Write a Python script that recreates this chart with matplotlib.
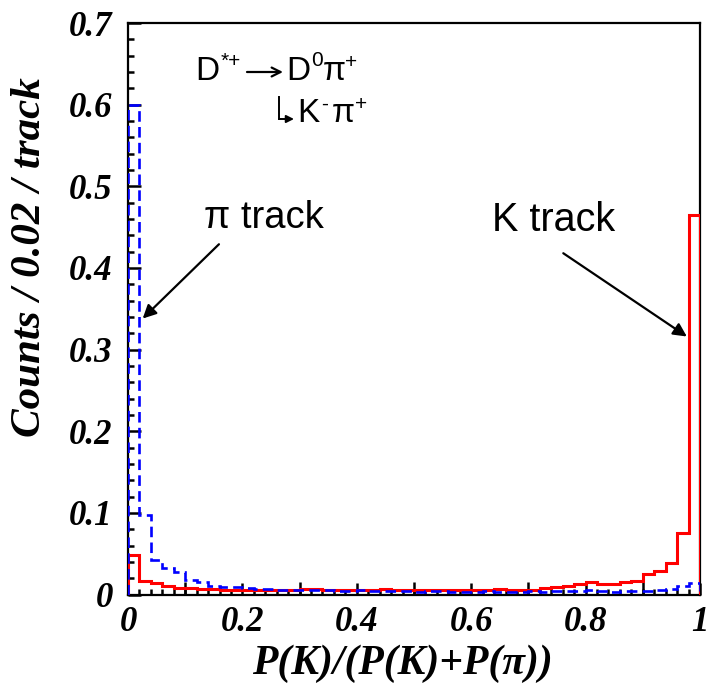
import matplotlib
matplotlib.use("Agg")
import matplotlib.pyplot as plt
import numpy as np
from matplotlib.ticker import MultipleLocator

# ---------------- data ----------------
bin_edges = np.linspace(0.0, 1.0, 51)

k_track = [0.048, 0.017, 0.014, 0.011, 0.008, 0.008, 0.007, 0.007, 0.006, 0.006,
           0.006, 0.006, 0.005, 0.006, 0.005, 0.007, 0.007, 0.005, 0.005, 0.006,
           0.006, 0.005, 0.007, 0.005, 0.005, 0.006, 0.005, 0.005, 0.005, 0.006,
           0.006, 0.005, 0.007, 0.006, 0.005, 0.006, 0.0076, 0.0088, 0.0104, 0.0125,
           0.0157, 0.0125, 0.0125, 0.0157, 0.016, 0.0247, 0.029, 0.039, 0.0757, 0.465]

pi_track = [0.600, 0.097, 0.042, 0.032, 0.027, 0.018, 0.015, 0.0104, 0.009, 0.009,
            0.008, 0.007, 0.007, 0.006, 0.006, 0.005, 0.005, 0.005, 0.004, 0.004,
            0.005, 0.004, 0.004, 0.004, 0.004, 0.003, 0.004, 0.004, 0.003, 0.003,
            0.003, 0.004, 0.003, 0.003, 0.003, 0.004, 0.003, 0.004, 0.004, 0.004,
            0.005, 0.004, 0.003, 0.004, 0.004, 0.004, 0.006, 0.007, 0.011, 0.014]

x_ticks = [0, 0.2, 0.4, 0.6, 0.8, 1.0]
x_tick_labels = ["0", "0.2", "0.4", "0.6", "0.8", "1"]
x_mid_ticks = [0.1, 0.3, 0.5, 0.7, 0.9]
y_ticks = [0, 0.1, 0.2, 0.3, 0.4, 0.5, 0.6, 0.7]
y_tick_labels = ["0", "0.1", "0.2", "0.3", "0.4", "0.5", "0.6", "0.7"]

# ---------------- figure ----------------
W, H = 707, 690
fig = plt.figure(figsize=(W / 100, H / 100), dpi=100)
ax = fig.add_axes([128 / W, 1 - 594.5 / H, (700 - 128) / W, (594.5 - 23) / H])

ax.stairs(k_track, bin_edges, baseline=0, color="#ff0000", lw=2.2, zorder=3)
ax.stairs(pi_track, bin_edges, baseline=0, color="#0000ff", lw=1.9,
          linestyle=(0, (4, 2)), zorder=4)

ax.set_xlim(0, 1)
ax.set_ylim(0, 0.7)

serif_bi = dict(family="Liberation Serif", weight="bold", style="italic")

ax.set_xticks(x_ticks)
ax.set_xticklabels(x_tick_labels, fontdict=dict(size=25, **serif_bi))
ax.set_yticks(y_ticks)
ax.set_yticklabels(y_tick_labels, fontdict=dict(size=25, **serif_bi))

ax.xaxis.set_minor_locator(MultipleLocator(0.02))
ax.yaxis.set_minor_locator(MultipleLocator(0.02))

ax.tick_params(axis="both", which="major", direction="in", length=9, width=1.8,
               top=False, right=False, color="black")
ax.tick_params(axis="both", which="minor", direction="in", length=4.5, width=1.8,
               top=False, right=False, color="black")
ax.tick_params(axis="x", which="major", pad=8)
ax.tick_params(axis="y", which="major", pad=11)

# longer tick marks at the odd tenths of the x axis
tick_len = 12.5 / 571.5  # axes fraction
for xv in x_mid_ticks:
    ax.plot([xv, xv], [0, tick_len], color="black", lw=1.8,
            transform=ax.get_xaxis_transform(), zorder=2, solid_capstyle="butt")

for sp in ax.spines.values():
    sp.set_linewidth(1.6)
    sp.set_color("black")

ax.set_xlabel("P(K)/(P(K)+P(π))", fontdict=dict(size=30, **serif_bi))
ax.set_ylabel("Counts / 0.02 / track", fontdict=dict(size=31, **serif_bi),
              va="center")
ax.xaxis.set_label_coords(0.48, -0.088)
ax.yaxis.set_label_coords(-0.172, 0.59)

# ---------------- annotations ----------------
sans = "Liberation Sans"

def ftxt(x, y, s, size):
    fig.text(x / W, 1 - y / H, s, fontsize=size, family=sans,
             va="baseline", ha="left")

BIG, SUP = 24, 15
# decay chain, line 1 (baseline y=80)
ftxt(195, 80, "D", BIG)
ftxt(221, 67, "*+", SUP)
ftxt(286, 80, "D", BIG)
ftxt(311, 66, "0", SUP)
ftxt(323, 80, "π", BIG)
ftxt(345, 68, "+", SUP)
ax.annotate("", xy=(283 / W, 1 - 72 / H), xytext=(247 / W, 1 - 72 / H),
            xycoords="figure fraction", textcoords="figure fraction",
            arrowprops=dict(arrowstyle="->", color="black", lw=1.6,
                            mutation_scale=16, shrinkA=0, shrinkB=0))
# line 2 (baseline y=122)
ftxt(297, 122, "K", BIG)
ftxt(321, 110, "-", SUP)
ftxt(332, 122, "π", BIG)
ftxt(355, 110, "+", SUP)
# bent arrow
fig.add_artist(plt.Line2D([279 / W, 279 / W], [1 - 97 / H, 1 - 119 / H],
                          color="black", lw=1.4))
ax.annotate("", xy=(294 / W, 1 - 119 / H), xytext=(279 / W, 1 - 119 / H),
            xycoords="figure fraction", textcoords="figure fraction",
            arrowprops=dict(arrowstyle="-|>", color="black", lw=1.4,
                            mutation_scale=11, shrinkA=0, shrinkB=0))

# pi track / K track labels with arrows
ax.text(0.132, 0.461, "π track", fontsize=27.5, family=sans, va="center", ha="left")
ax.text(0.637, 0.459, "K track", fontsize=28.5, family=sans, va="center", ha="left")
ax.annotate("", xy=(0.0257, 0.338), xytext=(0.159, 0.429),
            arrowprops=dict(arrowstyle="-|>", color="black", lw=1.6,
                            mutation_scale=20, shrinkA=0, shrinkB=0))
ax.annotate("", xy=(0.977, 0.316), xytext=(0.761, 0.418),
            arrowprops=dict(arrowstyle="-|>", color="black", lw=1.6,
                            mutation_scale=20, shrinkA=0, shrinkB=0))

fig.savefig("out.png", dpi=100)
